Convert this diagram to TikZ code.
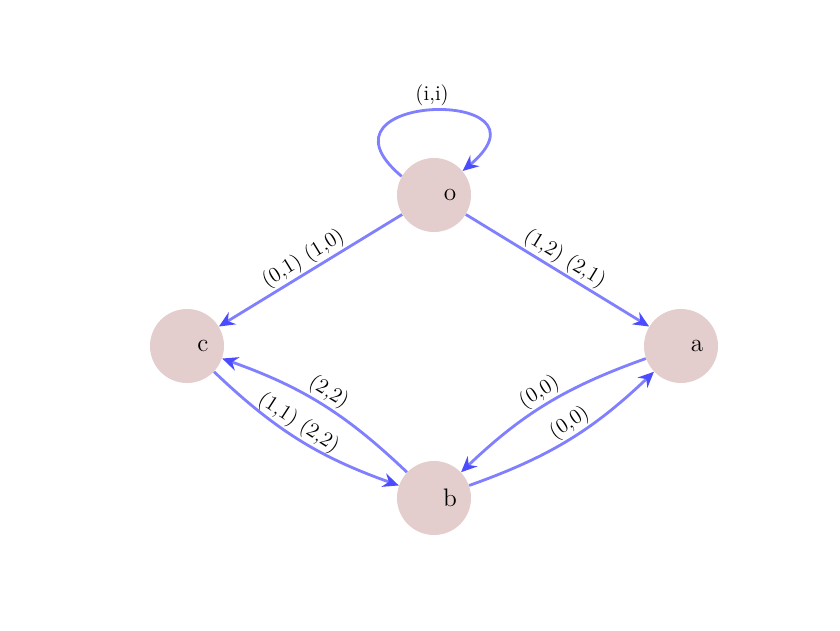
\documentclass[tikz,border=0pt]{standalone}
\usetikzlibrary{arrows.meta}
\begin{document}
\begin{tikzpicture}[
  state/.style={circle,fill=red!30!gray!30,minimum size=1.48cm,inner sep=0pt},
  edge/.style={blue!50,line width=1.6pt,-{Stealth[length=9pt,width=8pt,inset=3pt,color=blue!70]}},
  lbl/.style={font=\large,text=black,sloped,above,inner sep=1pt}]
\useasboundingbox (0,0) rectangle (16.8,12.6);
\node[state] (o) at (8.68,8.7) {};
\node[state] (a) at (13.62,5.68) {};
\node[state] (b) at (8.68,2.64) {};
\node[state] (c) at (3.74,5.68) {};
\node[font=\Large] at (9.0,8.7) {o};
\node[font=\Large] at (13.94,5.68) {a};
\node[font=\Large] at (9.0,2.64) {b};
\node[font=\Large] at (4.06,5.68) {c};
\draw[edge] (o) to node[lbl] {(0,1) (1,0)} (c);
\draw[edge] (o) to node[lbl] {(1,2) (2,1)} (a);
\draw[edge] (a) to[bend right=12] node[lbl] {(0,0)} (b);
\draw[edge] (b) to[bend right=12] node[lbl,pos=0.55] {(0,0)} (a);
\draw[edge] (c) to[bend right=12] node[lbl,pos=0.45] {(1,1) (2,2)} (b);
\draw[edge] (b) to[bend right=12] node[lbl] {(2,2)} (c);
\draw[edge] (o.150) to[out=140,in=40,looseness=5.5] node[font=\large,text=black,above,inner sep=2pt] {(i,i)} (o.40);
\end{tikzpicture}
\end{document}
